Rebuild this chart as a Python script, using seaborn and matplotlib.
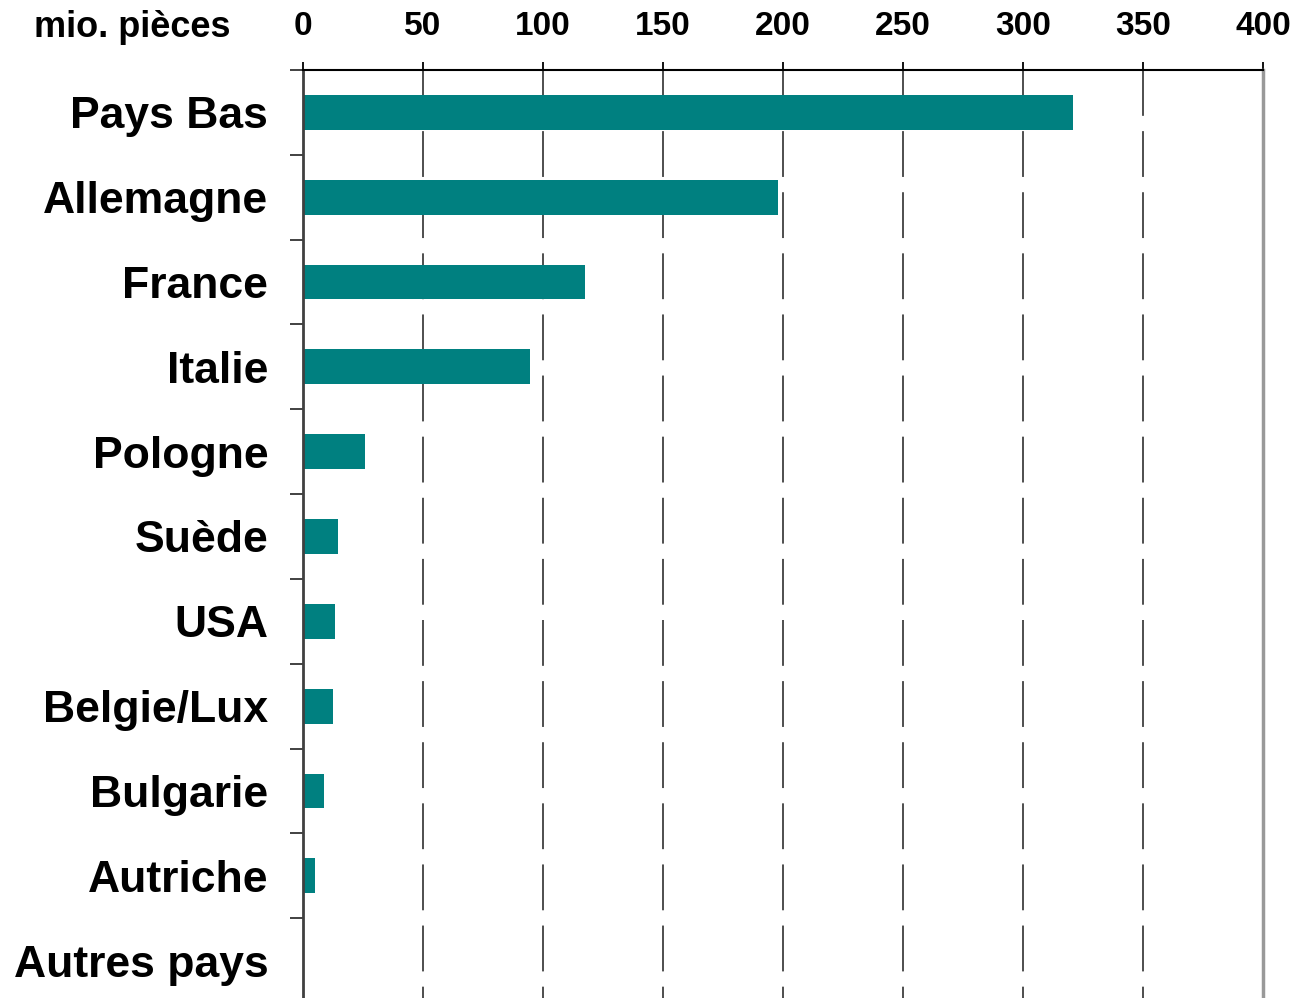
import matplotlib
matplotlib.use("Agg")
import matplotlib.pyplot as plt
import seaborn as sns
import numpy as np
import pandas as pd

categories = ["Pays Bas", "Allemagne", "France", "Italie", "Pologne", "Suède",
              "USA", "Belgie/Lux", "Bulgarie", "Autriche", "Autres pays"]
values = [321, 198, 117.5, 94.6, 25.8, 14.6, 13.3, 12.5, 8.8, 5.0, 0.0]
x_ticks = [0, 50, 100, 150, 200, 250, 300, 350, 400]
unit_label = "mio. pièces"

sns.set_theme(style="white")
plt.rcParams['font.family'] = ['Liberation Sans', 'DejaVu Sans']
plt.rcParams['lines.scale_dashes'] = False

df = pd.DataFrame({"pays": categories, "val": values})

W, H = 1297, 998
fig = plt.figure(figsize=(W / 100, H / 100), dpi=100)
ax = fig.add_axes([303 / W, (H - 1003) / H, (1263 - 303) / W, (1003 - 70) / H])

sns.barplot(data=df, y="pays", x="val", orient="h", color="#008080",
            width=0.41, ax=ax, saturation=1, zorder=3, linewidth=0)

ax.set_xlim(0, 400)
ax.set_ylim(len(categories) - 0.5, -0.5)
ax.set_xlabel("")
ax.set_ylabel("")

# x axis on top
ax.xaxis.tick_top()
ax.set_xticks(x_ticks)
ax.set_xticklabels([str(t) for t in x_ticks], fontsize=24, fontweight="bold", color="black")
ax.tick_params(axis="x", which="major", direction="out", length=6, width=1.3,
               color="black", pad=14, top=True, bottom=False)

# y labels at centers, tick marks at boundaries
ax.set_yticks(range(len(categories)))
ax.set_yticklabels(categories, fontsize=32, fontweight="bold", color="black")
ax.tick_params(axis="y", which="major", length=0, pad=25)
ax.set_yticks(np.arange(-0.5, len(categories), 1.0), minor=True)
ax.tick_params(axis="y", which="minor", direction="out", length=9.5, width=1.3,
               color="#333333", left=True)

# dashed grid drawn from the top edge downward
ax.grid(False)
for t in x_ticks[1:-1]:
    ax.axvline(t, ymin=1, ymax=0, color="#404040", linewidth=1.3,
               linestyle=(0, (33, 11)), zorder=1)

ax.spines["top"].set_color("black")
ax.spines["top"].set_linewidth(1.5)
ax.spines["left"].set_color("#404040")
ax.spines["left"].set_linewidth(2.0)
ax.spines["right"].set_color("#999999")
ax.spines["right"].set_linewidth(2.5)
ax.spines["bottom"].set_visible(False)
for s in ["top", "left", "right"]:
    ax.spines[s].set_visible(True)
    ax.spines[s].set_zorder(5)

fig.text(230 / W, 1 - 37 / H, unit_label, ha="right", va="baseline",
         fontsize=26, fontweight="bold", color="black")

fig.savefig("out.png", dpi=100)
